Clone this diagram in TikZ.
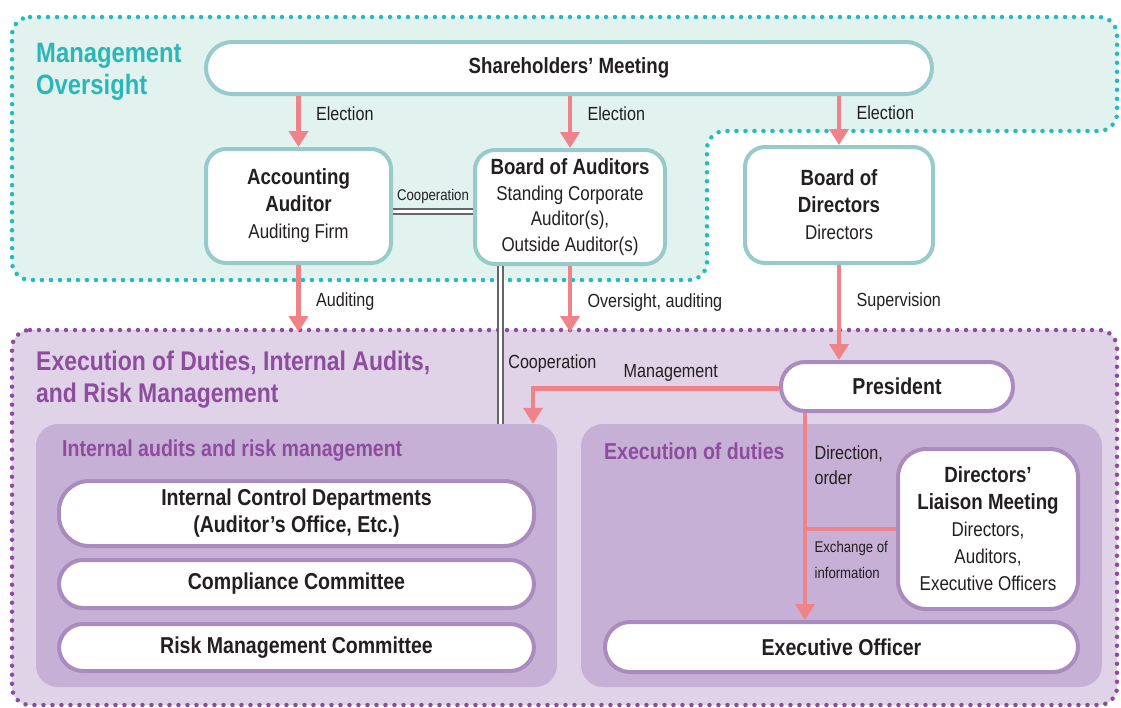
\documentclass[tikz,border=0pt]{standalone}
\usepackage{fontspec}
\setmainfont{Liberation Sans}[FakeStretch=0.85]
\usepackage{xcolor}
\usetikzlibrary{arrows.meta,positioning}

\definecolor{tealfill}{HTML}{E2F2EF}
\definecolor{tealdot}{HTML}{22BCBD}
\definecolor{tealedge}{HTML}{97CACA}
\definecolor{tealtitle}{HTML}{2AB7B8}
\definecolor{purfill}{HTML}{E0D2E7}
\definecolor{purpanel}{HTML}{C7B0D5}
\definecolor{puredge}{HTML}{A98BBE}
\definecolor{purdot}{HTML}{8E4C9E}
\definecolor{arrowpink}{HTML}{F0838A}
\definecolor{txt}{HTML}{231F20}
\definecolor{coopgray}{HTML}{666666}

\tikzset{
  tealbox/.style={draw=tealedge, line width=4pt, fill=white, rounded corners=20pt,
    align=center, text=txt, font=\fontsize{22}{27}\selectfont\bfseries},
  purbox/.style={draw=puredge, line width=4pt, fill=white,
    align=center, text=txt, font=\fontsize{23}{27}\selectfont\bfseries},
  panel/.style={fill=purpanel, rounded corners=22pt, inner sep=0pt},
  region/.style={line width=4.5pt, dash pattern=on 0pt off 9pt, line cap=round, rounded corners=18pt},
  arr/.style={draw=arrowpink, line width=4.5pt, -{Triangle[width=19pt,length=16pt]}},
  pinkline/.style={draw=arrowpink, line width=4.5pt},
  coop/.style={draw=coopgray, line width=2pt, double=white, double distance=3pt},
  lbl/.style={text=txt, font=\fontsize{19}{25}\selectfont, align=left},
  smlbl/.style={text=txt, font=\fontsize{15.5}{26}\selectfont, align=left},
  rtitle/.style={font=\fontsize{28}{32}\selectfont\bfseries, align=left, inner sep=0pt},
  ptitle/.style={text=purdot, font=\fontsize{23}{26}\selectfont\bfseries, inner sep=0pt}
}
\newcommand{\subline}[1]{{\fontsize{20}{25}\selectfont\mdseries #1}}

\begin{document}
\begin{tikzpicture}[x=1pt, y=-1pt]
    \useasboundingbox (0,0) rectangle (1121,707);

    % regions
    \path[region, fill=tealfill, draw=tealdot] (12,17) -- (1117,17) -- (1117,131) -- (707,131)
        -- (707,280) -- (12,280) -- cycle;
    \path[region, fill=purfill, draw=purdot] (12,330) -- (1117,330) -- (1117,705) -- (12,705) -- cycle;

    \node[rtitle, text=tealtitle, anchor=north west] (mgttitle) at (36,43) {Management\\Oversight};
    \node[rtitle, text=purdot, font=\fontsize{27}{32}\selectfont\bfseries, anchor=north west] (exetitle)
        at (36,351) {Execution of Duties, Internal Audits,\\and Risk Management};

    % panels
    \node[panel, minimum width=521pt, minimum height=263pt] (iabox) at (296.5,555.5) {};
    \node[panel, minimum width=521pt, minimum height=263pt] (edbox) at (841.5,555.5) {};
    \node[ptitle, anchor=west] (iatitle) at (62,451) {Internal audits and risk management};
    \node[ptitle, anchor=west] (edtitle) at (604,451) {Execution of duties};

    % management oversight
    \node[tealbox, rounded corners=26pt, minimum width=726pt, minimum height=52pt] (share) at (569,68) {Shareholders’ Meeting};
    \node[tealbox, minimum width=185pt, minimum height=114pt] (acc) at (298.5,206)
        {Accounting\\Auditor\\\subline{Auditing Firm}};
    \node[tealbox, font=\fontsize{22}{25.5}\selectfont\bfseries, minimum width=190pt, minimum height=114pt] (boa) at (570,207)
        {Board of Auditors\\\subline{Standing Corporate}\\\subline{Auditor(s),}\\\subline{Outside Auditor(s)}};
    \node[tealbox, minimum width=188pt, minimum height=116pt] (bod) at (839,205)
        {Board of\\Directors\\\subline{Directors}};

    % execution
    \node[purbox, rounded corners=24pt, minimum width=232pt, minimum height=49pt] (pres) at (897,386.5) {President};
    \node[purbox, rounded corners=30pt, minimum width=475pt, minimum height=65pt] (icd) at (296.5,513.5)
        {Internal Control Departments\\(Auditor’s Office, Etc.)};
    \node[purbox, rounded corners=24pt, minimum width=475pt, minimum height=48pt] (comp) at (296.5,584) {Compliance Committee};
    \node[purbox, rounded corners=24pt, minimum width=475pt, minimum height=47pt] (risk) at (296.5,647.5) {Risk Management Committee};
    \node[purbox, font=\fontsize{22}{27}\selectfont\bfseries, rounded corners=28pt, minimum width=180pt, minimum height=160pt] (liaison) at (988,529)
        {Directors’\\Liaison Meeting\\\subline{Directors,}\\\subline{Auditors,}\\\subline{Executive Officers}};
    \node[purbox, rounded corners=25pt, minimum width=473pt, minimum height=50pt] (exo) at (841.5,647) {Executive Officer};

    \coordinate (regtop) at (0,332);
    \coordinate (coopx) at (500,0);
    \coordinate (mgx) at (533,0);
    \coordinate (dirx) at (805,0);

    % connectors
    \draw[arr] (share.south -| acc.north) -- (acc.north) node[pos=0.35, right=12pt, lbl] {Election};
    \draw[arr] (share.south -| boa.north) -- (boa.north) node[pos=0.35, right=12pt, lbl] {Election};
    \draw[arr] (share.south -| bod.north) -- (bod.north) node[pos=0.35, right=12pt, lbl] {Election};

    \draw[coop] ([yshift=-5pt]acc.east) -- ([yshift=-5pt]acc.east -| boa.west) node[midway, above=3pt, smlbl] {Cooperation};
    \draw[coop] (boa.south -| coopx) -- (iabox.north -| coopx) node[pos=0.62, right=4pt, lbl] {Cooperation};

    \draw[arr] (acc.south) -- (acc.south |- regtop) node[pos=0.55, right=12pt, lbl] {Auditing};
    \draw[arr] (boa.south) -- (boa.south |- regtop) node[pos=0.55, right=12pt, lbl] {Oversight, auditing};
    \draw[arr] (bod.south) -- (pres.north -| bod.south) node[pos=0.39, right=12pt, lbl] {Supervision};

    \draw[arr] ([yshift=-2pt]pres.west) -| (iabox.north -| mgx) node[pos=0.22, above=1pt, lbl] {Management};

    \draw[pinkline] (liaison.west) -- (liaison.west -| dirx);
    \draw[arr] (pres.south -| dirx) -- (exo.north -| dirx)
        node[pos=0.25, right=4pt, lbl] {Direction,\\order}
        node[pos=0.71, right=4pt, smlbl] {Exchange of\\information};

\end{tikzpicture}
\end{document}
